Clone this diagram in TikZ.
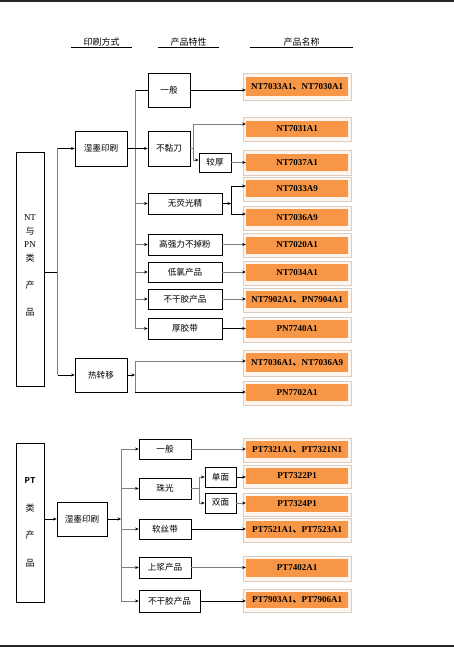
\documentclass[tikz,border=0pt]{standalone}
\usepackage{fontspec}
\setmainfont{Liberation Serif}
\setmonofont{Liberation Mono}
\newfontfamily\cjk{Noto Sans CJK SC}
\usetikzlibrary{arrows.meta,backgrounds}
\definecolor{orangeF}{HTML}{F79646}
\definecolor{frameF}{HTML}{FDF5EE}
\definecolor{frameD}{HTML}{D8CEC4}
\definecolor{lineG}{HTML}{808080}
\definecolor{barC}{HTML}{262626}
\tikzset{
  box/.style={draw=black, line width=0.8pt, fill=white, inner sep=0pt, font=\cjk\fontsize{8.6}{10}\selectfont},
  prod/.style={fill=orangeF, inner sep=0pt, minimum width=102pt, font=\bfseries\fontsize{9}{10}\selectfont},
  hdr/.style={inner sep=0.6pt, font=\cjk\fontsize{9}{10}\selectfont},
  bl/.style={line width=0.8pt, black},
  gl/.style={line width=0.9pt, lineG},
  arr/.style={-{Stealth[length=3.5pt,width=3pt,color=black]}},
  frm/.style={fill=frameF, draw=frameD, line width=0.6pt}
}
\begin{document}
\begin{tikzpicture}[x=1pt,y=-1pt]
\useasboundingbox (0,0) rectangle (454,647);
\fill[barC] (0,0) rectangle (454,2.5);
\fill[barC] (0,644.5) rectangle (454,647);

% headers
\node[hdr, minimum width=61pt] (h1) at (101.5,42.5) {印刷方式};
\node[hdr, minimum width=61pt] (h2) at (188.5,42.5) {产品特性};
\node[hdr, minimum width=103pt] (h3) at (301.5,42.5) {产品名称\hspace{10pt}};
\draw[line width=0.8pt] (h1.south west) -- (h1.south east);
\draw[line width=0.8pt] (h2.south west) -- (h2.south east);
\draw[line width=0.8pt] (h3.south west) -- (h3.south east);

% ---------------- NT / PN section
\node[box, minimum width=28pt, minimum height=234pt] (nt) at (30,269) {};
\node[inner sep=0pt, align=center, font=\fontsize{9}{13.6}\selectfont] (ntl) at (30,265.5)
  {NT\\{\cjk 与}\\PN\\{\cjk 类}\\[14pt]{\cjk 产}\\[13pt]{\cjk 品}};

\node[box, minimum width=52pt, minimum height=35pt] (wet1) at (101,148.5) {湿墨印刷};
\node[box, minimum width=52pt, minimum height=34pt] (heat) at (101,375) {热转移};

\node[box, minimum width=42pt, minimum height=34pt] (gen1) at (169,90) {一般};
\node[box, minimum width=42pt, minimum height=35pt] (nostick) at (169,148.5) {不黏刀};
\node[box, minimum width=32pt, minimum height=19pt] (thick) at (215,162.5) {较厚};
\node[box, minimum width=74pt, minimum height=21pt] (nofl) at (185,203.5) {无荧光精};
\node[box, minimum width=74pt, minimum height=21pt] (hs) at (185,244.5) {高强力不掉粉};
\node[box, minimum width=74pt, minimum height=20pt] (lowcl) at (185,272) {低氯产品};
\node[box, minimum width=74pt, minimum height=20pt] (nodry) at (185,299) {不干胶产品};
\node[box, minimum width=74pt, minimum height=21pt] (tape) at (185,328.5) {厚胶带};

\node[prod, minimum height=19pt] (o1) at (297,86.5) {NT7033A1{\cjk 、}NT7030A1};
\node[prod, minimum height=16pt] (o2) at (297,129) {NT7031A1};
\node[prod, minimum height=17pt] (o3) at (297,162.5) {NT7037A1};
\node[prod, minimum height=17pt] (o4) at (297,188.5) {NT7033A9};
\node[prod, minimum height=17pt] (o5) at (297,217.5) {NT7036A9};
\node[prod, minimum height=17pt] (o6) at (297,245) {NT7020A1};
\node[prod, minimum height=17pt] (o7) at (297,272.5) {NT7034A1};
\node[prod, minimum height=17pt] (o8) at (297,299.5) {NT7902A1{\cjk 、}PN7904A1};
\node[prod, minimum height=18pt] (o9) at (297,329) {PN7740A1};
\node[prod, minimum height=19pt] (o10) at (297,362.5) {NT7036A1{\cjk 、}NT7036A9};
\node[prod, minimum height=17pt] (o11) at (297,392.5) {PN7702A1};

% connectors NT
\coordinate (j0) at (57.5,272);
\draw[bl] (j0 -| nt.east) -- (j0);
\draw[gl] (j0 |- wet1.west) -- (j0 |- heat.west);
\draw[bl,arr] (j0 |- wet1.west) -- (wet1.west);
\draw[bl,arr] (j0 |- heat.west) -- (heat.west);

\coordinate (t1) at (135,0);
\draw[bl] (gen1.west) -- (gen1.west -| t1);
\draw[gl] (gen1.west -| t1) -- (tape.west -| t1);
\draw[bl,arr] (wet1.east) -- (nostick.west);
\draw[gl,arr] (nofl.west -| t1) -- (nofl.west);
\draw[gl,arr] (hs.west -| t1) -- (hs.west);
\draw[gl,arr] (lowcl.west -| t1) -- (lowcl.west);
\draw[gl,arr] (nodry.west -| t1) -- (nodry.west);
\draw[gl,arr] (tape.west -| t1) -- (tape.west);

\draw[bl,arr] (gen1.east) -- (gen1.east -| o1.west);
\coordinate (b1t) at (193,124);
\coordinate (b1b) at (193,160);
\draw[gl] (nostick.east) -- (nostick.east -| b1t);
\draw[gl] (b1t) -- (b1b);
\draw[gl,arr] (b1t) -- (b1t -| o2.west);
\draw[gl,arr] (b1b) -- (b1b -| thick.west);
\draw[gl,arr] (thick.east) -- (thick.east -| o3.west);
\coordinate (b2t) at (231,186);
\coordinate (b2b) at (231,214);
\draw[bl,arr] (nofl.east) -- (nofl.east -| b2t);
\draw[bl] (b2t) -- (b2b);
\draw[bl,arr] (b2t) -- (b2t -| o4.west);
\draw[bl,arr] (b2b) -- (b2b -| o5.west);
\draw[gl,arr] (hs.east) -- (hs.east -| o6.west);
\draw[gl,arr] (lowcl.east) -- (lowcl.east -| o7.west);
\draw[gl,arr] (nodry.east) -- (nodry.east -| o8.west);
\draw[bl,arr] (tape.east) -- (tape.east -| o9.west);

\coordinate (b3t) at (135,361);
\coordinate (b3b) at (135,392);
\draw[bl,arr] (heat.east) -- (heat.east -| b3t);
\draw[gl] (b3t) -- (b3b);
\draw[gl,arr] (b3t) -- (b3t -| o10.west);
\draw[bl,arr] (b3b) -- (b3b -| o11.west);

% ---------------- PT section
\node[box, minimum width=28pt, minimum height=159pt] (pt) at (30,522.5) {};
\node[inner sep=0pt, align=center, font=\fontsize{9}{27.7}\selectfont] (ptl) at (30,522.5)
  {{\ttfamily\bfseries PT}\\{\cjk 类}\\{\cjk 产}\\{\cjk 品}};

\node[box, minimum width=50pt, minimum height=34pt] (wet2) at (82,519) {湿墨印刷};
\node[box, minimum width=52pt, minimum height=20pt] (g2) at (165,449) {一般};
\node[box, minimum width=52pt, minimum height=21pt] (pearl) at (165,488.5) {珠光};
\node[box, minimum width=52pt, minimum height=20pt] (soft) at (165,529) {软丝带};
\node[box, minimum width=52pt, minimum height=21pt] (sizing) at (165,567.5) {上浆产品};
\node[box, minimum width=61pt, minimum height=22pt] (nodry2) at (169.5,601) {不干胶产品};
\node[box, minimum width=31pt, minimum height=20pt] (single) at (220.5,477) {单面};
\node[box, minimum width=31pt, minimum height=20pt] (double) at (220.5,503) {双面};

\node[prod, minimum height=17pt] (p1) at (297,449.5) {PT7321A1{\cjk 、}PT7321N1};
\node[prod, minimum height=16pt] (p2) at (297,476) {PT7322P1};
\node[prod, minimum height=16pt] (p3) at (297,504) {PT7324P1};
\node[prod, minimum height=17pt] (p4) at (297,529.5) {PT7521A1{\cjk 、}PT7523A1};
\node[prod, minimum height=18pt] (p5) at (297,568) {PT7402A1};
\node[prod, minimum height=16pt] (p6) at (297,600) {PT7903A1{\cjk 、}PT7906A1};

\draw[bl,arr] (pt.east |- wet2.west) -- (wet2.west);
\coordinate (t2) at (121,0);
\draw[bl,arr] (wet2.east) -- (wet2.east -| t2);
\draw[gl] (g2.west -| t2) -- (nodry2.west -| t2);
\draw[gl,arr] (g2.west -| t2) -- (g2.west);
\draw[gl,arr] (pearl.west -| t2) -- (pearl.west);
\draw[gl,arr] (soft.west -| t2) -- (soft.west);
\draw[gl,arr] (sizing.west -| t2) -- (sizing.west);
\draw[gl,arr] (nodry2.west -| t2) -- (nodry2.west);

\coordinate (b4t) at (199,477);
\coordinate (b4b) at (199,503);
\draw[gl] (pearl.east) -- (pearl.east -| b4t);
\draw[gl] (b4t) -- (b4b);
\draw[gl,arr] (b4t) -- (single.west);
\draw[gl,arr] (b4b) -- (double.west);

\draw[gl,arr] (g2.east) -- (g2.east -| p1.west);
\draw[bl,arr] (single.east) -- (single.east -| p2.west);
\draw[gl,arr] (double.east) -- (double.east -| p3.west);
\draw[bl,arr] (soft.east) -- (soft.east -| p4.west);
\draw[gl,arr] (sizing.east) -- (sizing.east -| p5.west);
\draw[bl,arr] (nodry2.east) -- (nodry2.east -| p6.west);

% frames behind product boxes
\begin{scope}[on background layer]
\foreach \n in {o1,o2,o3,o4,o5,o6,o7,o8,o9,o10,o11,p1,p2,p3,p4,p5,p6}
  \draw[frm] ([xshift=-3pt,yshift=3pt]\n.north west) rectangle ([xshift=3.5pt,yshift=-4pt]\n.south east);
\end{scope}
\end{tikzpicture}
\end{document}
